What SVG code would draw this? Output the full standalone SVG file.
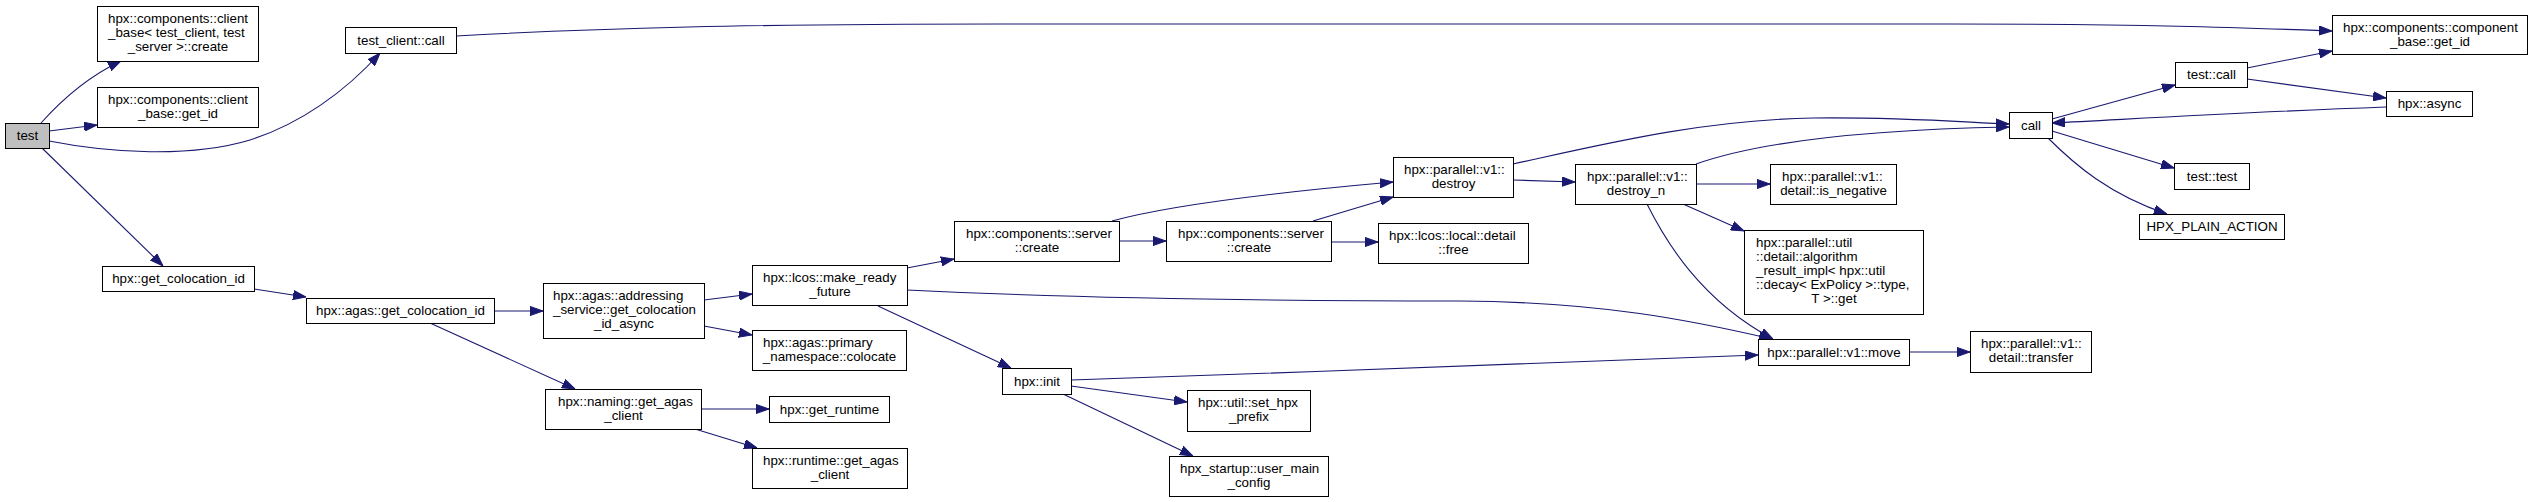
<svg xmlns="http://www.w3.org/2000/svg" width="2532" height="502" viewBox="0 0 2532 502">
<style>
.node rect{fill:#fff;stroke:#000;stroke-width:1}
.node rect.root{fill:#bfbfbf}
.node text{font-family:"Liberation Sans",Arial,Helvetica,sans-serif;font-size:13.33px;fill:#000}
.node text.c{text-anchor:middle}
.edges path{fill:none;stroke:#191970;stroke-width:1.1;marker-end:url(#arr)}
</style>
<defs>
<marker id="arr" viewBox="0 0 13 10" refX="13" refY="5" markerWidth="13" markerHeight="10" orient="auto" markerUnits="userSpaceOnUse">
<path d="M0,0.4 L13,5 L0,9.6 z" fill="#191970" stroke="#191970" stroke-width="1"/>
</marker>
</defs>
<rect width="2532" height="502" fill="#fff"/>
<g class="edges">
<path d="M41,123 C58,104 85,78 121,61"/>
<path d="M49,131 L97,125"/>
<path d="M49,141 C110,153 190,158 250,140 C300,124 345,92 380,53"/>
<path d="M42,148 L163,266"/>
<path d="M456,36 C600,28 750,24 1000,24 L1950,24 C2150,24 2250,28 2332,31"/>
<path d="M254,289 L306,297"/>
<path d="M494,311 L543,311"/>
<path d="M430,323 L575,389"/>
<path d="M704,300 L752,294"/>
<path d="M704,326 L752,335"/>
<path d="M701,409 L769,409"/>
<path d="M695,429 L757,448"/>
<path d="M907,268 L954,259"/>
<path d="M907,290 C1050,297 1250,301 1460,301 C1600,302 1690,320 1772,339"/>
<path d="M878,306 L1011,368"/>
<path d="M1071,380 C1300,372 1600,362 1758,355"/>
<path d="M1071,386 L1187,402"/>
<path d="M1063,394 L1193,456"/>
<path d="M1112,221 C1170,205 1280,192 1393,182"/>
<path d="M1119,241 L1166,241"/>
<path d="M1313,221 L1393,197"/>
<path d="M1331,242 L1378,242"/>
<path d="M1513,180 L1575,182"/>
<path d="M1513,164 C1600,145 1700,120 1813,118 C1900,117 1960,122 2009,124"/>
<path d="M1696,164 C1750,145 1850,130 2009,127"/>
<path d="M1696,184 L1770,184"/>
<path d="M1683,204 L1744,231"/>
<path d="M1647,204 C1665,240 1700,300 1773,339"/>
<path d="M1909,352 L1970,352"/>
<path d="M2052,119 L2175,85"/>
<path d="M2386,107 C2250,112 2150,118 2052,123"/>
<path d="M2052,131 L2174,168"/>
<path d="M2048,138 C2075,165 2110,195 2167,214"/>
<path d="M2247,68 L2332,51"/>
<path d="M2247,79 L2386,98"/>
</g>
<g id="node-test" class="node"><rect class="root" x="5.5" y="123.5" width="44" height="25"/><text class="c" x="27.5" y="140">test</text></g>
<g id="node-client-base-create" class="node"><rect x="97.5" y="6.5" width="161" height="55"/><text x="108" y="23">hpx::components::client</text><text x="108" y="37">_base&lt; test_client, test</text><text class="c" x="178" y="51">_server &gt;::create</text></g>
<g id="node-client-base-get-id" class="node"><rect x="97.5" y="87.5" width="161" height="40"/><text x="108" y="104">hpx::components::client</text><text class="c" x="178" y="118">_base::get_id</text></g>
<g id="node-test-client-call" class="node"><rect x="345.5" y="27.5" width="111" height="26"/><text class="c" x="401" y="44.5">test_client::call</text></g>
<g id="node-get-colocation-id" class="node"><rect x="102.5" y="266.5" width="152" height="25"/><text class="c" x="178.5" y="283">hpx::get_colocation_id</text></g>
<g id="node-agas-get-colocation-id" class="node"><rect x="306.5" y="298.5" width="188" height="25"/><text class="c" x="400.5" y="315">hpx::agas::get_colocation_id</text></g>
<g id="node-addressing-service" class="node"><rect x="543.5" y="283.5" width="161" height="55"/><text x="553" y="300">hpx::agas::addressing</text><text x="553" y="314">_service::get_colocation</text><text class="c" x="624" y="328">_id_async</text></g>
<g id="node-naming-get-agas-client" class="node"><rect x="545.5" y="389.5" width="156" height="40"/><text x="558" y="406">hpx::naming::get_agas</text><text class="c" x="623.5" y="420">_client</text></g>
<g id="node-make-ready-future" class="node"><rect x="752.5" y="265.5" width="155" height="40"/><text x="763" y="282">hpx::lcos::make_ready</text><text class="c" x="830" y="296">_future</text></g>
<g id="node-primary-namespace" class="node"><rect x="752.5" y="330.5" width="154" height="40"/><text x="763" y="347">hpx::agas::primary</text><text class="c" x="829.5" y="361">_namespace::colocate</text></g>
<g id="node-get-runtime" class="node"><rect x="769.5" y="396.5" width="120" height="26"/><text class="c" x="829.5" y="413.5">hpx::get_runtime</text></g>
<g id="node-runtime-get-agas-client" class="node"><rect x="752.5" y="448.5" width="155" height="40"/><text x="763" y="465">hpx::runtime::get_agas</text><text class="c" x="830" y="479">_client</text></g>
<g id="node-hpx-init" class="node"><rect x="1002.5" y="368.5" width="69" height="26"/><text class="c" x="1037" y="385.5">hpx::init</text></g>
<g id="node-set-hpx-prefix" class="node"><rect x="1187.5" y="390.5" width="123" height="41"/><text x="1198" y="407">hpx::util::set_hpx</text><text class="c" x="1249" y="421">_prefix</text></g>
<g id="node-user-main-config" class="node"><rect x="1169.5" y="456.5" width="159" height="40"/><text x="1180" y="473">hpx_startup::user_main</text><text class="c" x="1249" y="487">_config</text></g>
<g id="node-server-create-1" class="node"><rect x="954.5" y="221.5" width="165" height="40"/><text x="966" y="238">hpx::components::server</text><text class="c" x="1037" y="252">::create</text></g>
<g id="node-server-create-2" class="node"><rect x="1166.5" y="221.5" width="165" height="40"/><text x="1178" y="238">hpx::components::server</text><text class="c" x="1249" y="252">::create</text></g>
<g id="node-destroy" class="node"><rect x="1393.5" y="157.5" width="120" height="40"/><text x="1404" y="174">hpx::parallel::v1::</text><text class="c" x="1453.5" y="188">destroy</text></g>
<g id="node-lcos-free" class="node"><rect x="1378.5" y="223.5" width="150" height="40"/><text x="1389" y="240">hpx::lcos::local::detail</text><text class="c" x="1453.5" y="254">::free</text></g>
<g id="node-destroy-n" class="node"><rect x="1575.5" y="164.5" width="121" height="40"/><text x="1587" y="181">hpx::parallel::v1::</text><text class="c" x="1636" y="195">destroy_n</text></g>
<g id="node-is-negative" class="node"><rect x="1770.5" y="164.5" width="126" height="40"/><text x="1782" y="181">hpx::parallel::v1::</text><text class="c" x="1833.5" y="195">detail::is_negative</text></g>
<g id="node-algorithm-result" class="node"><rect x="1744.5" y="230.5" width="179" height="84"/><text x="1756" y="247">hpx::parallel::util</text><text x="1756" y="261">::detail::algorithm</text><text x="1756" y="275">_result_impl&lt; hpx::util</text><text x="1756" y="289">::decay&lt; ExPolicy &gt;::type,</text><text class="c" x="1834" y="303">T &gt;::get</text></g>
<g id="node-move" class="node"><rect x="1758.5" y="339.5" width="151" height="26"/><text class="c" x="1834" y="356.5">hpx::parallel::v1::move</text></g>
<g id="node-transfer" class="node"><rect x="1970.5" y="331.5" width="121" height="41"/><text x="1981" y="348">hpx::parallel::v1::</text><text class="c" x="2031" y="362">detail::transfer</text></g>
<g id="node-call" class="node"><rect x="2009.5" y="112.5" width="43" height="26"/><text class="c" x="2031" y="129.5">call</text></g>
<g id="node-component-base-get-id" class="node"><rect x="2332.5" y="15.5" width="195" height="39"/><text x="2343" y="32">hpx::components::component</text><text class="c" x="2430" y="46">_base::get_id</text></g>
<g id="node-test-call" class="node"><rect x="2175.5" y="62.5" width="72" height="25"/><text class="c" x="2211.5" y="79">test::call</text></g>
<g id="node-hpx-async" class="node"><rect x="2386.5" y="91.5" width="86" height="25"/><text class="c" x="2429.5" y="108">hpx::async</text></g>
<g id="node-test-test" class="node"><rect x="2174.5" y="163.5" width="75" height="26"/><text class="c" x="2212" y="180.5">test::test</text></g>
<g id="node-hpx-plain-action" class="node"><rect x="2139.5" y="214.5" width="145" height="25"/><text class="c" x="2212" y="231">HPX_PLAIN_ACTION</text></g>
</svg>
